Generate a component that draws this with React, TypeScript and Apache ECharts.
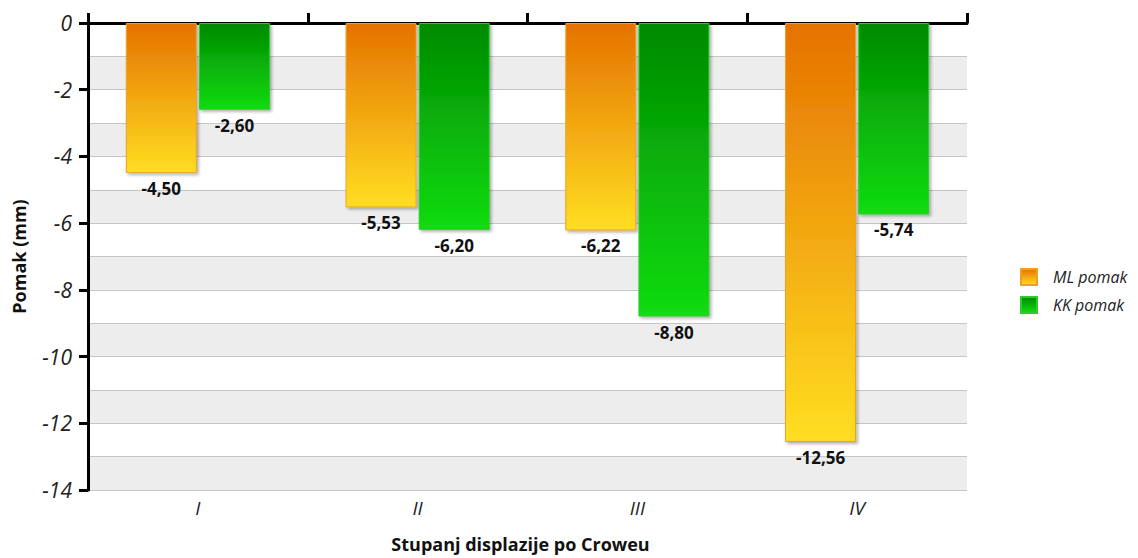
import React, { useEffect, useRef } from "react";
import * as echarts from "echarts";

const categories = ["I", "II", "III", "IV"];
const mlValues = [-4.5, -5.53, -6.22, -12.56];
const kkValues = [-2.6, -6.2, -8.8, -5.74];
const seriesNames = ["ML pomak", "KK pomak"];
const yMin = -14;
const yMax = 0;

const FONT = "Open Sans";

const fmt = (v: number) => v.toFixed(2).replace(".", ",");

export default function App() {
  const ref = useRef<HTMLDivElement>(null);
  useEffect(() => {
    document.body.style.margin = "0";
    if (!ref.current) return;
    const chart = echarts.init(ref.current, null, { renderer: "svg" });
    const orange = new echarts.graphic.LinearGradient(0, 0, 0, 1, [
      { offset: 0, color: "#e57200" },
      { offset: 1, color: "#ffde22" },
    ]);
    const green = new echarts.graphic.LinearGradient(0, 0, 0, 1, [
      { offset: 0, color: "#008a00" },
      { offset: 1, color: "#12dc12" },
    ]);
    const labelStyle = {
      show: true,
      position: "bottom" as const,
      distance: 7,
      fontFamily: FONT,
      fontWeight: "bold" as const,
      fontSize: 17,
      color: "#111",
      formatter: (p: any) => fmt(p.value),
    };
    chart.setOption({
      animation: false,
      textStyle: { fontFamily: FONT },
      grid: { left: 88, right: 171, top: 23, bottom: 65 },
      legend: {
        orient: "vertical",
        left: 1015,
        top: 263,
        itemWidth: 16,
        itemHeight: 16,
        itemGap: 10,
        icon: "rect",
        data: seriesNames,
        textStyle: {
          fontFamily: FONT,
          fontStyle: "italic",
          fontSize: 16,
          color: "#222",
          padding: [0, 0, 0, 11],
        },
      },
      xAxis: [
        {
          type: "category",
          data: categories,
          position: "top",
          axisLine: { show: true, onZero: false, lineStyle: { color: "#000", width: 3 } },
          axisTick: { show: true, length: 10, lineStyle: { color: "#000", width: 3 } },
          axisLabel: { show: false },
          splitLine: { show: false },
        },
        {
          type: "category",
          data: categories,
          position: "bottom",
          axisLine: { show: false },
          axisTick: { show: false },
          axisLabel: {
            fontFamily: FONT,
            fontStyle: "italic",
            fontSize: 19,
            color: "#222",
            margin: 8,
          },
          name: "Stupanj displazije po Croweu",
          nameLocation: "middle",
          nameGap: 45,
          nameTextStyle: { fontFamily: FONT, fontWeight: "bold", fontSize: 18, color: "#111", padding: [0, 14, 0, 0] },
        },
      ],
      yAxis: [
        {
          type: "value",
          min: yMin,
          max: yMax,
          interval: 2,
          position: "left",
          axisLine: { show: true, lineStyle: { color: "#000", width: 3 } },
          axisTick: { show: true, length: 9, lineStyle: { color: "#000", width: 3 } },
          axisLabel: {
            fontFamily: FONT,
            fontStyle: "italic",
            fontSize: 21,
            color: "#222",
            margin: 16,
          },
          splitLine: { show: false },
          name: "Pomak (mm)",
          nameLocation: "middle",
          nameGap: 60,
          nameTextStyle: { fontFamily: FONT, fontWeight: "bold", fontSize: 18, color: "#111" },
        },
        {
          type: "value",
          min: yMin,
          max: yMax,
          interval: 1,
          position: "right",
          axisLine: { show: false },
          axisTick: { show: false },
          axisLabel: { show: false },
          splitLine: { show: true, lineStyle: { color: "#c6c6c6", width: 1 } },
          splitArea: { show: true, areaStyle: { color: ["#ededed", "rgba(255,255,255,0)"] } },
        },
      ],
      series: [
        {
          name: seriesNames[0],
          type: "bar",
          data: mlValues,
          barWidth: 71,
          barGap: "3%",
          itemStyle: {
            color: orange,
            borderColor: "#f0a020",
            borderWidth: 1,
            shadowColor: "rgba(0,0,0,0.3)",
            shadowBlur: 3,
            shadowOffsetX: 2,
            shadowOffsetY: 2,
          },
          label: labelStyle,
        },
        {
          name: seriesNames[1],
          type: "bar",
          data: kkValues,
          barWidth: 71,
          barGap: "3%",
          itemStyle: {
            color: green,
            borderColor: "#2ccc2c",
            borderWidth: 1,
            shadowColor: "rgba(0,0,0,0.3)",
            shadowBlur: 3,
            shadowOffsetX: 2,
            shadowOffsetY: 2,
          },
          label: labelStyle,
        },
      ],
    });
    return () => chart.dispose();
  }, []);
  return <div ref={ref} style={{ width: 1138, height: 558 }} />;
}
